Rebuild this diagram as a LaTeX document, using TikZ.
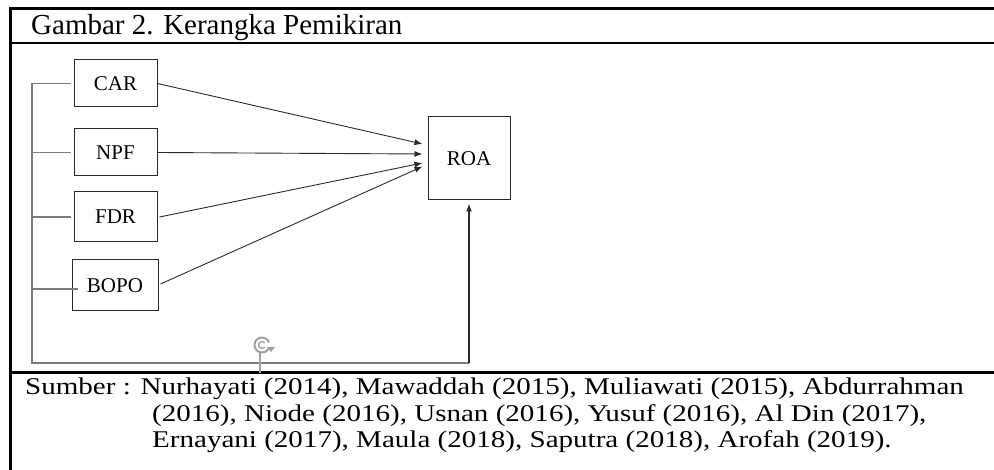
\documentclass[tikz,border=0pt]{standalone}
\usepackage{fontspec}
\setmainfont{Liberation Serif}
\usetikzlibrary{arrows.meta}
\definecolor{framec}{HTML}{000000}
\definecolor{brack}{HTML}{7A7A7A}
\definecolor{arr}{HTML}{2A2A2A}
\definecolor{iconc}{HTML}{A0A0A0}
\tikzset{
  frame/.style={draw=framec, line width=3pt},
  varbox/.style={draw=arr, line width=1pt, inner sep=0pt, font=\fontsize{21}{24}\selectfont},
  bracket/.style={draw=brack, line width=1.3pt},
  infl/.style={draw=arr, line width=0.9pt, -{Latex[length=8pt,width=6pt]}},
  txt/.style={inner sep=0pt, anchor=base west},
  srcfont/.style={font=\fontsize{24}{24}\selectfont},
}
\newcommand{\srcscale}[1]{\scalebox{1.21}[1]{#1}}
\begin{document}
\begin{tikzpicture}[x=1pt,y=-1pt]
\useasboundingbox (0,0) rectangle (994,470);
% outer frame
\draw[frame] (10,470) -- (10,9) -- (994,9);
\draw[frame, line width=2.6pt] (10,43) -- (994,43);
\draw[frame] (10,373) -- (994,373);
% title
\node[txt] (title) at (31,35) {\fontsize{29}{29}\selectfont Gambar 2. Kerangka Pemikiran};
% boxes
\node[varbox, minimum width=83pt, minimum height=47pt] (CAR) at (115.5,83.5) {CAR};
\node[varbox, minimum width=83pt, minimum height=47pt] (NPF) at (115.5,152.5) {NPF};
\node[varbox, minimum width=83pt, minimum height=50pt] (FDR) at (115.5,217) {FDR};
\node[varbox, minimum width=86pt, minimum height=51pt] (BOPO) at (115,285.5) {BOPO};
\node[varbox, minimum width=82pt, minimum height=83pt] (ROA) at (469,158.5) {ROA};
% bracket
\coordinate (LB) at (32,363);
\draw[bracket] ([xshift=-3pt]CAR.west) -| (LB) -- (LB -| ROA.south);
\draw[bracket] ([xshift=-3pt]NPF.west) -- (NPF.west -| LB);
\draw[bracket] ([xshift=-3pt]FDR.west) -- (FDR.west -| LB);
\draw[bracket] ([xshift=6pt,yshift=-3.5pt]BOPO.west) -- ([yshift=-3.5pt]BOPO.west -| LB);
\draw[bracket, -{Latex[length=8pt,width=6pt]}, arr] (LB -| ROA.south) -- ([yshift=-3pt]ROA.south);
% arrows to ROA
\draw[infl] (CAR.east) -- ([xshift=-5pt,yshift=14.5pt]ROA.west);
\draw[infl] (NPF.east) -- ([xshift=-5pt,yshift=4.5pt]ROA.west);
\draw[infl] ([xshift=2pt]FDR.east) -- ([xshift=-5pt,yshift=-4.5pt]ROA.west);
\draw[infl] ([xshift=2pt,yshift=1.5pt]BOPO.east) -- ([xshift=-5pt,yshift=-8pt]ROA.west);
% rotation handle artifact
\coordinate (rh) at (262,345);
\draw[iconc, line width=1.2pt] (260,353) -- (260,373);
\draw[iconc, line width=2pt] ([shift={(20:7.5pt)}]rh) arc[start angle=20, end angle=330, radius=7.5pt];
\draw[iconc, line width=1.4pt] ([shift={(40:3.5pt)}]rh) arc[start angle=40, end angle=320, radius=3.5pt];
\fill[iconc] (rh) ++(5,2) -- ++(8,0) -- ++(-4,5) -- cycle;
% source text
\node[txt, srcfont] (s1) at (25,395) {\srcscale{Sumber : Nurhayati (2014), Mawaddah (2015), Muliawati (2015), Abdurrahman}};
\node[txt, srcfont] (s2) at (152,421) {\srcscale{(2016), Niode (2016), Usnan (2016), Yusuf (2016), Al Din (2017),}};
\node[txt, srcfont] (s3) at (152,447) {\srcscale{Ernayani (2017), Maula (2018), Saputra (2018), Arofah (2019).}};
\end{tikzpicture}
\end{document}
